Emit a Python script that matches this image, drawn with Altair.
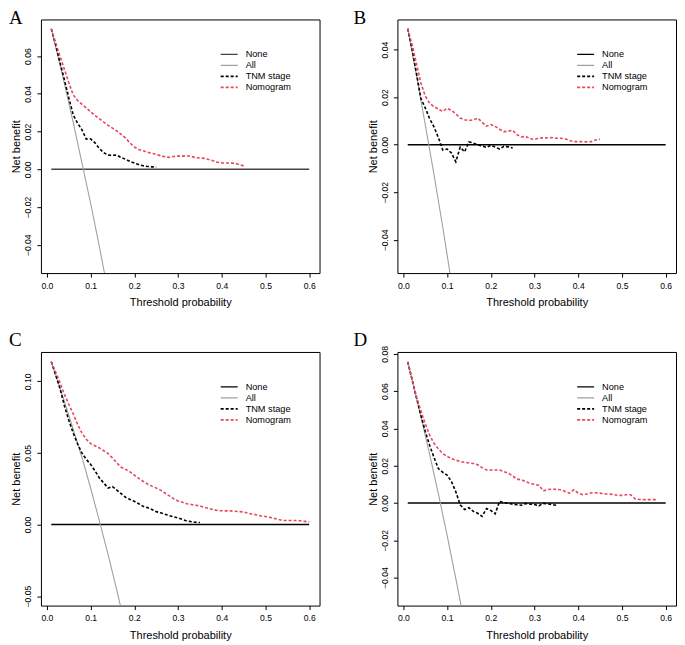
import altair as alt
import pandas as pd

# ---------------- data ----------------
X_DOMAIN = [-0.0136, 0.6236]
X_TICKS = [0.0, 0.1, 0.2, 0.3, 0.4, 0.5, 0.6]
LEGEND_LABELS = ["None", "All", "TNM stage", "Nomogram"]

NONE_X = [0.01, 0.60]
NONE_Y = [0.0, 0.0]

# Panel A
A_ydom = [-0.055, 0.0794]
A_yticks = [-0.04, -0.02, 0.0, 0.02, 0.04, 0.06]
A_all_x = [0.01, 0.04, 0.06, 0.08, 0.10, 0.12, 0.14]
A_all_y = [0.0745, 0.0455, 0.0250, 0.0035, -0.0180, -0.0410, -0.0650]
A_nom_x = [0.01, 0.02, 0.03, 0.04, 0.05, 0.06, 0.07, 0.08, 0.09, 0.10, 0.11, 0.12, 0.13, 0.14, 0.15,
           0.16, 0.17, 0.18, 0.19, 0.20, 0.21, 0.22, 0.23, 0.24, 0.25, 0.26, 0.27, 0.28, 0.29, 0.30,
           0.31, 0.32, 0.33, 0.34, 0.35, 0.36, 0.37, 0.38, 0.39, 0.40, 0.41, 0.42, 0.43, 0.44, 0.45]
A_nom_y = [0.0744, 0.0670, 0.0600, 0.0530, 0.0460, 0.0395, 0.0365, 0.0345, 0.0325, 0.0305, 0.0285,
           0.0268, 0.0250, 0.0233, 0.0218, 0.0203, 0.0185, 0.0165, 0.0140, 0.0118, 0.0105, 0.0098,
           0.0090, 0.0085, 0.0078, 0.0072, 0.0066, 0.0063, 0.0068, 0.0070, 0.0070, 0.0072, 0.0068,
           0.0062, 0.0060, 0.0058, 0.0052, 0.0045, 0.0037, 0.0034, 0.0033, 0.0033, 0.0032, 0.0025, 0.0018]
A_tnm_x = [0.01, 0.02, 0.03, 0.04, 0.05, 0.06, 0.07, 0.08, 0.09, 0.10, 0.11, 0.12, 0.13,
           0.14, 0.15, 0.16, 0.17, 0.18, 0.19, 0.20, 0.21, 0.22, 0.23, 0.24, 0.25]
A_tnm_y = [0.0744, 0.0660, 0.0565, 0.0475, 0.0380, 0.0290, 0.0245, 0.0210, 0.0160, 0.0161, 0.0140,
           0.0110, 0.0088, 0.0075, 0.0074, 0.0075, 0.0062, 0.0053, 0.0042, 0.0033, 0.0025, 0.0019,
           0.0015, 0.0013, 0.0012]

# Panel B
B_ydom = [-0.054, 0.0527]
B_yticks = [-0.04, -0.02, 0.0, 0.02, 0.04]
B_all_x = [0.01, 0.03, 0.05, 0.07, 0.09, 0.11]
B_all_y = [0.0488, 0.0290, 0.0085, -0.0125, -0.0345, -0.0580]
B_nom_x = A_nom_x
B_nom_y = [0.0488, 0.0420, 0.0340, 0.0260, 0.0205, 0.0175, 0.0160, 0.0150, 0.0140, 0.0153, 0.0145,
           0.0130, 0.0112, 0.0105, 0.0102, 0.0105, 0.0112, 0.0095, 0.0078, 0.0085, 0.0077, 0.0065,
           0.0055, 0.0057, 0.0061, 0.0042, 0.0033, 0.0035, 0.0025, 0.0022, 0.0028, 0.0029, 0.0028,
           0.0030, 0.0027, 0.0027, 0.0025, 0.0018, 0.0013, 0.0013, 0.0013, 0.0012, 0.0013, 0.0020, 0.0023]
B_tnm_x = A_tnm_x
B_tnm_y = [0.0488, 0.0400, 0.0300, 0.0195, 0.0155, 0.0110, 0.0075, 0.0030, -0.0022, -0.0018, -0.0035,
           -0.0072, -0.0010, -0.0030, 0.0012, 0.0007, 0.0000, -0.0005, -0.0011, -0.0003, -0.0010,
           -0.0018, -0.0007, -0.0009, -0.0014]

# Panel C
C_ydom = [-0.0566, 0.1205]
C_yticks = [-0.05, 0.0, 0.05, 0.10]
C_all_x = [0.01, 0.05, 0.08, 0.10, 0.12, 0.14, 0.16, 0.18]
C_all_y = [0.1139, 0.0765, 0.0470, 0.0255, 0.0025, -0.0210, -0.0460, -0.0720]
C_nom_x = [0.01, 0.02, 0.03, 0.04, 0.05, 0.06, 0.07, 0.08, 0.09, 0.10, 0.11, 0.12, 0.13, 0.14, 0.15,
           0.16, 0.17, 0.18, 0.19, 0.20, 0.21, 0.22, 0.23, 0.24, 0.25, 0.26, 0.27, 0.28, 0.29, 0.30,
           0.31, 0.32, 0.33, 0.34, 0.35, 0.36, 0.37, 0.38, 0.39, 0.40, 0.41, 0.42, 0.43, 0.44, 0.45,
           0.46, 0.47, 0.48, 0.49, 0.50, 0.51, 0.52, 0.53, 0.54, 0.55, 0.56, 0.57, 0.58, 0.59, 0.60]
C_nom_y = [0.1137, 0.1065, 0.0990, 0.0910, 0.0840, 0.0775, 0.0700, 0.0640, 0.0595, 0.0565, 0.0550,
           0.0535, 0.0515, 0.0495, 0.0465, 0.0430, 0.0400, 0.0385, 0.0368, 0.0345, 0.0322, 0.0302,
           0.0283, 0.0268, 0.0255, 0.0240, 0.0220, 0.0200, 0.0180, 0.0165, 0.0155, 0.0145, 0.0140,
           0.0135, 0.0130, 0.0120, 0.0112, 0.0105, 0.0098, 0.0096, 0.0095, 0.0095, 0.0093, 0.0090,
           0.0088, 0.0080, 0.0072, 0.0066, 0.0060, 0.0056, 0.0050, 0.0043, 0.0035, 0.0028, 0.0028,
           0.0028, 0.0028, 0.0026, 0.0022, 0.0018]
C_tnm_x = [0.01, 0.02, 0.03, 0.04, 0.05, 0.06, 0.07, 0.08, 0.09, 0.10, 0.11, 0.12, 0.13, 0.14, 0.15,
           0.16, 0.17, 0.18, 0.19, 0.20, 0.21, 0.22, 0.23, 0.24, 0.25, 0.26, 0.27, 0.28, 0.29, 0.30,
           0.31, 0.32, 0.33, 0.34, 0.35]
C_tnm_y = [0.1137, 0.1045, 0.0950, 0.0830, 0.0730, 0.0640, 0.0565, 0.0500, 0.0455, 0.0420, 0.0375,
           0.0325, 0.0290, 0.0255, 0.0265, 0.0240, 0.0215, 0.0190, 0.0175, 0.0162, 0.0145, 0.0127,
           0.0118, 0.0105, 0.0090, 0.0082, 0.0072, 0.0062, 0.0053, 0.0046, 0.0036, 0.0025, 0.0020,
           0.0016, 0.0014]

# Panel D
D_ydom = [-0.055, 0.081]
D_yticks = [-0.04, -0.02, 0.0, 0.02, 0.04, 0.06, 0.08]
D_all_x = [0.01, 0.04, 0.06, 0.08, 0.10, 0.12, 0.14]
D_all_y = [0.0757, 0.0465, 0.0262, 0.0050, -0.0172, -0.0405, -0.0648]
D_nom_x = C_nom_x[:58]
D_nom_y = [0.0757, 0.0665, 0.0570, 0.0495, 0.0425, 0.0365, 0.0320, 0.0290, 0.0265, 0.0250, 0.0238,
           0.0230, 0.0222, 0.0218, 0.0215, 0.0212, 0.0205, 0.0190, 0.0177, 0.0177, 0.0177, 0.0177,
           0.0168, 0.0160, 0.0145, 0.0128, 0.0124, 0.0115, 0.0105, 0.0100, 0.0095, 0.0065, 0.0072,
           0.0074, 0.0073, 0.0071, 0.0062, 0.0053, 0.0071, 0.0053, 0.0045, 0.0048, 0.0055, 0.0055,
           0.0053, 0.0048, 0.0048, 0.0046, 0.0041, 0.0041, 0.0044, 0.0044, 0.0023, 0.0019, 0.0018,
           0.0018, 0.0018, 0.0018]
D_tnm_x = C_tnm_x
D_tnm_y = [0.0757, 0.0660, 0.0565, 0.0470, 0.0385, 0.0310, 0.0245, 0.0185, 0.0165, 0.0150, 0.0115,
           0.0060, -0.0010, -0.0035, -0.0025, -0.0045, -0.0055, -0.0072, -0.0030, -0.0040, -0.0058,
           0.0009, 0.0002, -0.0001, -0.0006, -0.0009, -0.0012, -0.0003, -0.0006, -0.0008, -0.0015,
           -0.0002, -0.0005, -0.0008, -0.0012]

# ---------------- styling ----------------
W, H = 279, 254
FONT = "Liberation Sans"
RED = "#E8475F"
GRAY = "#A0A0A0"
DASH = [3, 2]


def panel(letter, lx, ly, ydom, yticks, all_x, all_y, nom_x, nom_y, tnm_x, tnm_y, none_color):
    xenc = alt.X("pt:Q", scale=alt.Scale(domain=X_DOMAIN, nice=False, zero=False),
                 axis=alt.Axis(values=X_TICKS, format=".1f", title="Threshold probability"))
    yenc = alt.Y("nb:Q", scale=alt.Scale(domain=ydom, nice=False, zero=False),
                 axis=alt.Axis(values=yticks, format=".2f", title="Net benefit",
                               labelAngle=270, labelAlign="center", labelBaseline="bottom"))

    def df(xs, ys):
        return pd.DataFrame({"pt": xs, "nb": ys})

    none_l = alt.Chart(df(NONE_X, NONE_Y)).mark_line(color=none_color, strokeWidth=1.4).encode(x=xenc, y=yenc)
    all_l = alt.Chart(df(all_x, all_y)).mark_line(color=GRAY, strokeWidth=1.1, clip=True).encode(x=xenc, y=yenc)
    tnm_l = alt.Chart(df(tnm_x, tnm_y)).mark_line(color="black", strokeWidth=1.6, strokeDash=DASH).encode(x=xenc, y=yenc)
    nom_l = alt.Chart(df(nom_x, nom_y)).mark_line(color=RED, strokeWidth=1.6, strokeDash=DASH).encode(x=xenc, y=yenc)

    one = pd.DataFrame({"k": [0]})
    styles = [(none_color, 1.4, [1, 0]), (GRAY, 1.1, [1, 0]), ("black", 1.6, DASH), (RED, 1.6, DASH)]
    rows_y = [35, 46, 57, 68]
    leg = []
    for lab, (col, sw, dash), yy in zip(LEGEND_LABELS, styles, rows_y):
        leg.append(alt.Chart(one).mark_rule(color=col, strokeWidth=sw, strokeDash=dash).encode(
            x=alt.value(180), x2=alt.value(197), y=alt.value(yy)))
        leg.append(alt.Chart(one).mark_text(font=FONT, fontSize=9.2, align="left", baseline="middle",
                                            color="black").encode(
            x=alt.value(205), y=alt.value(yy), text=alt.value(lab)))
    let = alt.Chart(one).mark_text(font="Liberation Serif", fontSize=19, align="left",
                                   baseline="alphabetic", color="black").encode(
        x=alt.value(lx), y=alt.value(ly), text=alt.value(letter))

    return alt.layer(none_l, all_l, tnm_l, nom_l, *leg, let).properties(width=W, height=H)


pA = panel("A", -32, 5, A_ydom, A_yticks, A_all_x, A_all_y, A_nom_x, A_nom_y, A_tnm_x, A_tnm_y, "#444444")
pB = panel("B", -44, 5, B_ydom, B_yticks, B_all_x, B_all_y, B_nom_x, B_nom_y, B_tnm_x, B_tnm_y, "black")
pC = panel("C", -32, -6, C_ydom, C_yticks, C_all_x, C_all_y, C_nom_x, C_nom_y, C_tnm_x, C_tnm_y, "black")
pD = panel("D", -44, -6, D_ydom, D_yticks, D_all_x, D_all_y, D_nom_x, D_nom_y, D_tnm_x, D_tnm_y, "black")

chart = alt.vconcat(
    alt.hconcat(pA, pB, spacing=32),
    alt.hconcat(pC, pD, spacing=32),
    spacing=21,
).properties(padding=0).configure_view(
    stroke="black", strokeWidth=1
).configure_axis(
    domain=False, grid=False, ticks=True, tickColor="black", tickSize=4, tickWidth=1,
    labelFont=FONT, labelFontSize=8.6, labelColor="black", labelPadding=4,
    titleFont=FONT, titleFontSize=11, titleFontWeight="normal", titleColor="black",
).configure_axisX(titlePadding=7).configure_axisY(titlePadding=2)

chart.save("out.html", embed_options={"renderer": "svg", "actions": False})
